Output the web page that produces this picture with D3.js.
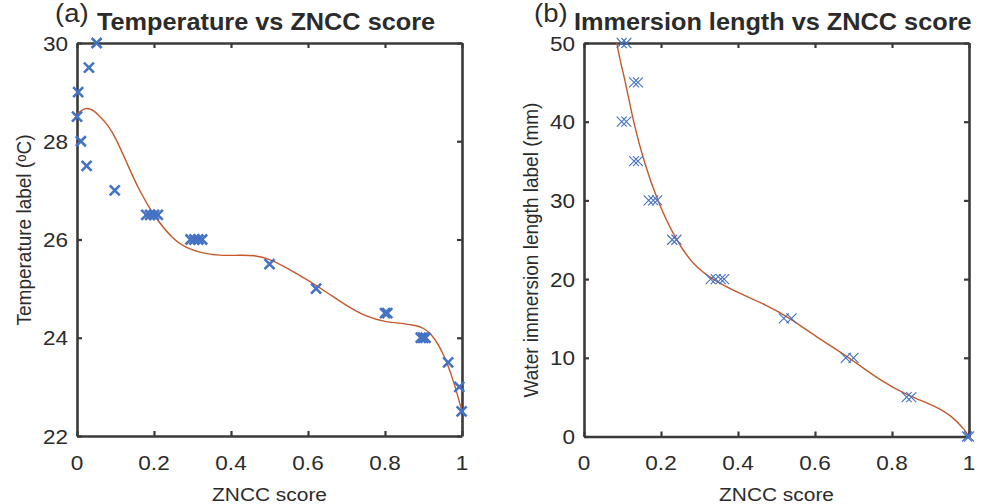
<!DOCTYPE html>
<html>
<head>
<meta charset="utf-8">
<script src="https://cdn.jsdelivr.net/npm/d3@7"></script>
<style>
  html, body { margin: 0; padding: 0; background: #fff; }
  svg text { font-family: "Liberation Sans", Arial, Helvetica, sans-serif; fill: #2b2b2b; }
</style>
</head>
<body>
<div id="chart"></div>
<script>
// ---- data ----
// (a) temperature label vs ZNCC score
const tempZncc = [0.051, 0.031, 0.003, 0.0, 0.01, 0.025, 0.098,
  0.18, 0.19, 0.20, 0.21,
  0.295, 0.305, 0.315, 0.325,
  0.50, 0.621, 0.80, 0.806,
  0.893, 0.899, 0.905,
  0.964, 0.993, 0.999];
const tempLabel = [30, 29.5, 29, 28.5, 28, 27.5, 27,
  26.5, 26.5, 26.5, 26.5,
  26, 26, 26, 26,
  25.5, 25, 24.5, 24.5,
  24, 24, 24,
  23.5, 23, 22.5];
// fitted curve (a)
const tempFitX = [0, 0.02, 0.04, 0.06, 0.08, 0.10, 0.13, 0.16, 0.20, 0.25, 0.28, 0.32, 0.37, 0.42, 0.46,
  0.50, 0.55, 0.60, 0.65, 0.70, 0.75, 0.80, 0.85, 0.88, 0.90, 0.92, 0.94, 0.96, 0.98, 1.0];
const tempFitY = [28.55, 28.69, 28.65, 28.5, 28.33, 28.08, 27.55, 27.02, 26.47, 26.0, 25.84, 25.73, 25.67, 25.68, 25.68,
  25.61, 25.4, 25.17, 24.92, 24.65, 24.43, 24.32, 24.29, 24.25, 24.2, 24.08, 23.85, 23.52, 23.08, 22.5];

// (b) immersion length label vs ZNCC score
const immZncc = [0.098, 0.11, 0.13, 0.14, 0.098, 0.11, 0.13, 0.14,
  0.168, 0.18, 0.19, 0.229, 0.24,
  0.329, 0.342, 0.355, 0.364,
  0.519, 0.539, 0.68, 0.70, 0.838, 0.85, 0.995, 1.0];
const immLabel = [50, 50, 45, 45, 40, 40, 35, 35,
  30, 30, 30, 25, 25,
  20, 20, 20, 20,
  15, 15, 10, 10, 5, 5, 0, 0];
// fitted curve (b)
const immFitX = [0.085, 0.095, 0.108, 0.128, 0.155, 0.19, 0.238, 0.286, 0.342, 0.403, 0.472, 0.53,
  0.602, 0.69, 0.766, 0.844, 0.905, 0.957, 0.991, 1.0];
const immFitY = [50, 47.5, 45, 40, 35, 30, 25, 21.6, 19.7, 18.2, 16.75, 15.2,
  12.7, 10.0, 7.2, 5.1, 4.05, 2.6, 0.7, 0];

const xTicks = [0, 0.2, 0.4, 0.6, 0.8, 1];
const tempTicks = [22, 24, 26, 28, 30];
const immTicks = [0, 10, 20, 30, 40, 50];

const W = 984, H = 504;
const AXIS = '#3a3a3a';
const MARK = '#4472C4';
const FIT = '#C4592A';
const SX = 1.1; // the picture's text is a little wide

const svg = d3.select('#chart').append('svg')
  .attr('width', W)
  .attr('height', H);

function label(x, y, txt, size, opts = {}) {
  const t = svg.append('text')
    .attr('transform', opts.rotate
      ? `translate(${x},${y}) rotate(-90) scale(1,${opts.sx || SX})`
      : `translate(${x},${y}) scale(${opts.sx || SX},1)`)
    .attr('text-anchor', opts.anchor || 'start')
    .style('font-size', size + 'px')
    .style('font-weight', opts.bold ? 'bold' : 'normal');
  t.text(txt);
  return t;
}

function panel(p) {
  const x = d3.scaleLinear().domain([0, 1]).range([p.left, p.right]);
  const y = d3.scaleLinear().domain(p.yDomain).range([p.bottom, p.top]);
  const g = svg.append('g');

  const styleAxis = a => {
    a.select('.domain').attr('stroke', AXIS).attr('stroke-width', 2.6);
    a.selectAll('.tick line').attr('stroke', AXIS).attr('stroke-width', 2.2);
    a.selectAll('text').remove();
  };

  // box with inward ticks on all four sides
  g.append('g').attr('transform', `translate(0,${p.bottom})`)
    .call(d3.axisBottom(x).tickValues(xTicks).tickSizeInner(-5).tickSizeOuter(0)).call(styleAxis);
  g.append('g').attr('transform', `translate(0,${p.top})`)
    .call(d3.axisTop(x).tickValues(xTicks).tickSizeInner(-5).tickSizeOuter(0)).call(styleAxis);
  g.append('g').attr('transform', `translate(${p.left},0)`)
    .call(d3.axisLeft(y).tickValues(p.yTicks).tickSizeInner(-5).tickSizeOuter(0)).call(styleAxis);
  g.append('g').attr('transform', `translate(${p.right},0)`)
    .call(d3.axisRight(y).tickValues(p.yTicks).tickSizeInner(-5).tickSizeOuter(0)).call(styleAxis);

  // tick labels
  xTicks.forEach(v => label(x(v), 470, d3.format('~g')(v), 20.5, { anchor: 'middle' }));
  p.yTicks.forEach(v => label(p.left - 9, y(v) + 7.5, String(v), 20.5, { anchor: 'end' }));

  // fitted curve
  const fit = p.fitX.map((v, i) => [v, p.fitY[i]]);
  g.append('path')
    .datum(fit)
    .attr('fill', 'none')
    .attr('stroke', FIT)
    .attr('stroke-width', 1.4)
    .attr('d', d3.line().x(d => x(d[0])).y(d => y(d[1])).curve(d3.curveBasis));

  // x markers
  const pts = p.px.map((v, i) => [v, p.py[i]]);
  const s = p.markSize;
  g.append('g')
    .selectAll('path')
    .data(pts)
    .join('path')
    .attr('d', d => {
      const cx = x(d[0]), cy = y(d[1]);
      return `M${cx - s},${cy - s}L${cx + s},${cy + s}M${cx - s},${cy + s}L${cx + s},${cy - s}`;
    })
    .attr('stroke', MARK)
    .attr('stroke-width', p.markWidth)
    .attr('fill', 'none');

  // axis titles
  label((p.left + p.right) / 2, 501, 'ZNCC score', 19, { anchor: 'middle' });
}

panel({
  left: 77, right: 462, top: 43, bottom: 436,
  yDomain: [22, 30], yTicks: tempTicks,
  px: tempZncc, py: tempLabel, fitX: tempFitX, fitY: tempFitY,
  markSize: 5, markWidth: 2.6
});

panel({
  left: 584, right: 969, top: 43, bottom: 436.5,
  yDomain: [0, 50], yTicks: immTicks,
  px: immZncc, py: immLabel, fitX: immFitX, fitY: immFitY,
  markSize: 5, markWidth: 1.1
});

// y-axis titles
const yl = label(31, 230, '', 19, { anchor: 'middle', rotate: true });
yl.append('tspan').text('Temperature label (');
yl.append('tspan').attr('baseline-shift', '38%').style('font-size', '13px').text('o');
yl.append('tspan').text('C)');
label(538, 250, 'Water immersion length label (mm)', 19, { anchor: 'middle', rotate: true });

// panel titles
label(55, 22, '(a)', 25);
label(97, 30, 'Temperature vs ZNCC score', 23, { bold: true });
label(534, 22, '(b)', 25);
label(574, 30, 'Immersion length vs ZNCC score', 23, { bold: true });
</script>
</body>
</html>
